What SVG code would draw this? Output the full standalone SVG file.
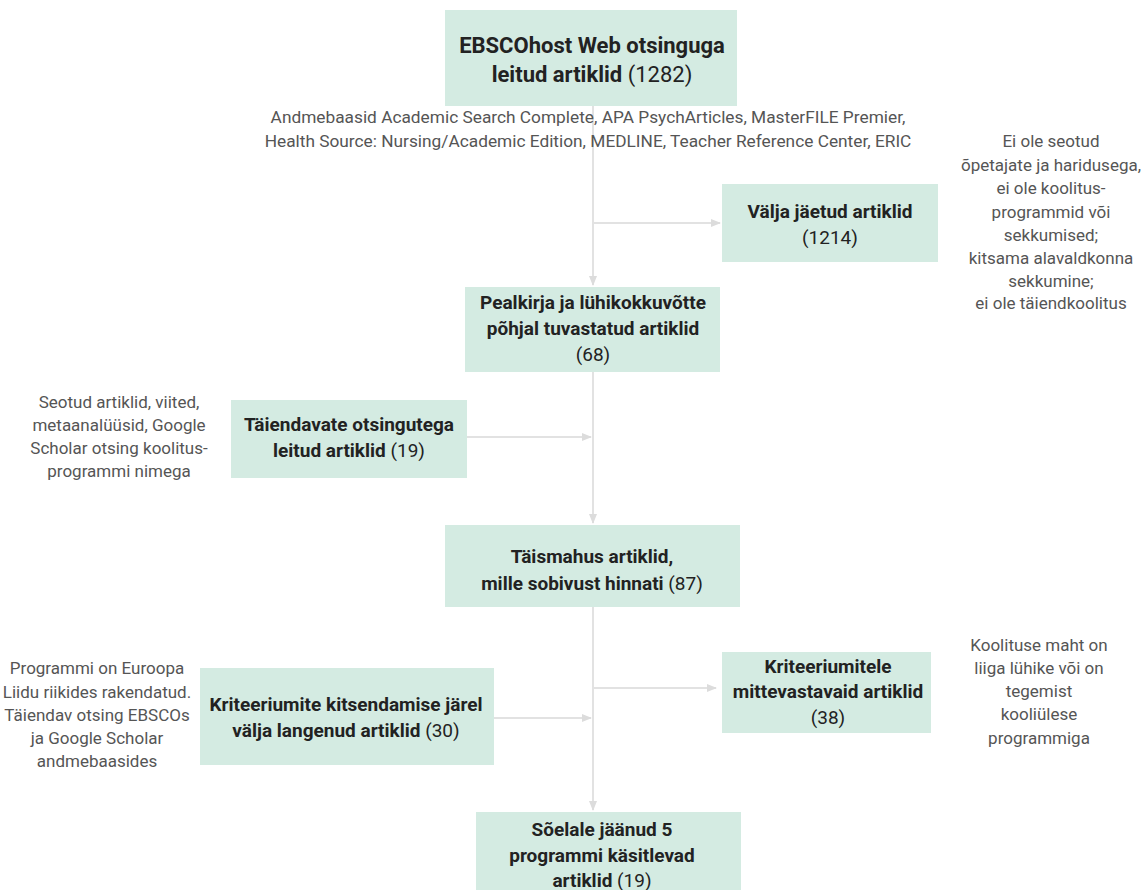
<svg xmlns="http://www.w3.org/2000/svg" width="1145" height="890" viewBox="0 0 1145 890">
<defs>
<marker id="arr" viewBox="0 0 10 10" refX="9" refY="5" markerWidth="5" markerHeight="5" orient="auto"><path d="M0,1 L10,5 L0,9 z" fill="#dcdcdc"/></marker>
<style>
.box{fill:#d4ebe2}
.t{font-family:Roboto,"Liberation Sans",sans-serif;fill:#222;text-anchor:middle;font-size:19px}
.b{font-weight:bold}
.n{font-weight:normal}
.g{font-family:Roboto,"Liberation Sans",sans-serif;fill:#555;text-anchor:middle;font-size:17px}
.c{stroke:#e2e2e2;stroke-width:2;fill:none}
</style>
</defs>
<rect width="1145" height="890" fill="#fff"/>
<g id="connectors">
<path class="c" d="M593,106 V285" marker-end="url(#arr)"/>
<path class="c" d="M593,223 H720" marker-end="url(#arr)"/>
<path class="c" d="M593,372 V523" marker-end="url(#arr)"/>
<path class="c" d="M467,437 H591" marker-end="url(#arr)"/>
<path class="c" d="M593,607 V810" marker-end="url(#arr)"/>
<path class="c" d="M593,688 H716" marker-end="url(#arr)"/>
<path class="c" d="M494,718 H591" marker-end="url(#arr)"/>
</g>
<g id="n1">
<rect class="box" x="445" y="10" width="292" height="96"/>
<text class="t b" style="font-size:22px" x="592" y="53">EBSCOhost Web otsinguga</text>
<text class="t b" style="font-size:22px" x="592" y="82">leitud artiklid <tspan class="n">(1282)</tspan></text>
</g>
<g id="n1note">
<text class="g" style="font-size:17.3px" x="588" y="123">Andmebaasid Academic Search Complete, APA PsychArticles, MasterFILE Premier,</text>
<text class="g" style="font-size:17.3px" x="588" y="147">Health Source: Nursing/Academic Edition, MEDLINE, Teacher Reference Center, ERIC</text>
</g>
<g id="n2">
<rect class="box" x="722" y="184" width="216" height="78"/>
<text class="t b" x="830" y="218">Välja jäetud artiklid</text>
<text class="t" x="830" y="244">(1214)</text>
</g>
<g id="n2note">
<text class="g" x="1051" y="147">Ei ole seotud</text>
<text class="g" x="1051" y="171">õpetajate ja haridusega,</text>
<text class="g" x="1051" y="194">ei ole koolitus-</text>
<text class="g" x="1051" y="218">programmid või</text>
<text class="g" x="1051" y="241">sekkumised;</text>
<text class="g" x="1051" y="264">kitsama alavaldkonna</text>
<text class="g" x="1051" y="287">sekkumine;</text>
<text class="g" x="1051" y="309">ei ole täiendkoolitus</text>
</g>
<g id="n3">
<rect class="box" x="465" y="287" width="255" height="85"/>
<text class="t b" x="593" y="309">Pealkirja ja lühikokkuvõtte</text>
<text class="t b" x="593" y="335">põhjal tuvastatud artiklid</text>
<text class="t" x="593" y="361">(68)</text>
</g>
<g id="n4">
<rect class="box" x="231" y="400" width="236" height="78"/>
<text class="t b" x="349" y="431">Täiendavate otsingutega</text>
<text class="t b" x="349" y="457">leitud artiklid <tspan class="n">(19)</tspan></text>
</g>
<g id="n4note">
<text class="g" x="119" y="408">Seotud artiklid, viited,</text>
<text class="g" x="119" y="431">metaanalüüsid, Google</text>
<text class="g" x="119" y="454">Scholar otsing koolitus-</text>
<text class="g" x="119" y="477">programmi nimega</text>
</g>
<g id="n5">
<rect class="box" x="445" y="525" width="295" height="82"/>
<text class="t b" x="592" y="563">Täismahus artiklid,</text>
<text class="t b" x="592" y="590">mille sobivust hinnati <tspan class="n">(87)</tspan></text>
</g>
<g id="n6">
<rect class="box" x="722" y="652" width="209" height="81"/>
<text class="t b" x="828" y="673">Kriteeriumitele</text>
<text class="t b" x="828" y="698">mittevastavaid artiklid</text>
<text class="t" x="828" y="724">(38)</text>
</g>
<g id="n6note">
<text class="g" x="1039" y="651">Koolituse maht on</text>
<text class="g" x="1039" y="674">liiga lühike või on</text>
<text class="g" x="1039" y="697">tegemist</text>
<text class="g" x="1039" y="720">kooliülese</text>
<text class="g" x="1039" y="744">programmiga</text>
</g>
<g id="n7">
<rect class="box" x="200" y="668" width="294" height="97"/>
<text class="t b" x="346" y="711">Kriteeriumite kitsendamise järel</text>
<text class="t b" x="346" y="737">välja langenud artiklid <tspan class="n">(30)</tspan></text>
</g>
<g id="n7note">
<text class="g" x="97" y="674">Programmi on Euroopa</text>
<text class="g" x="97" y="698">Liidu riikides rakendatud.</text>
<text class="g" x="97" y="721">Täiendav otsing EBSCOs</text>
<text class="g" x="97" y="744">ja Google Scholar</text>
<text class="g" x="97" y="767">andmebaasides</text>
</g>
<g id="n8">
<rect class="box" x="476" y="812" width="265" height="78"/>
<text class="t b" x="602" y="836">Sõelale jäänud 5</text>
<text class="t b" x="602" y="862">programmi käsitlevad</text>
<text class="t b" x="602" y="887">artiklid <tspan class="n">(19)</tspan></text>
</g>
</svg>
